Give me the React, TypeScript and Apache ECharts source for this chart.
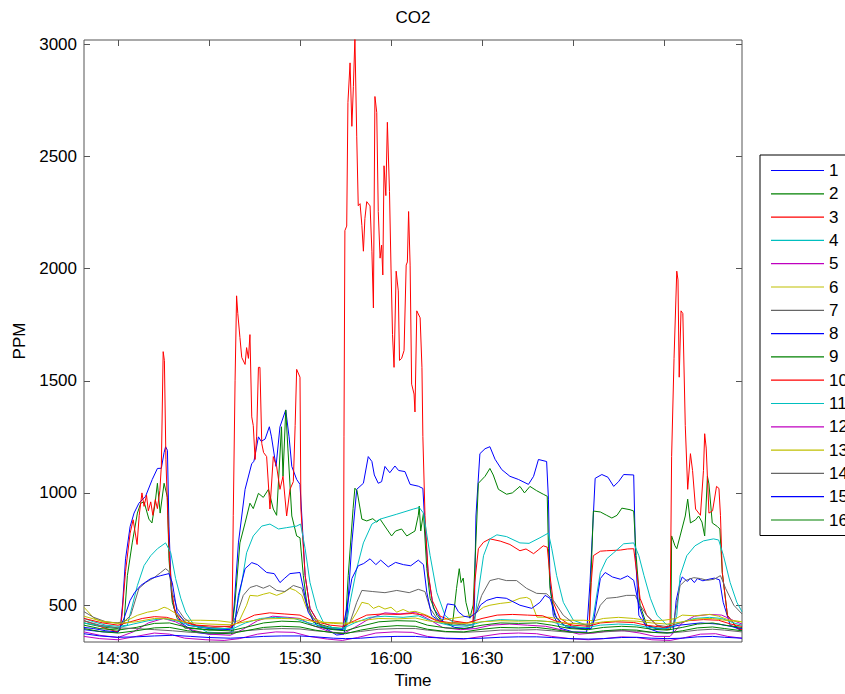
import React, { useEffect, useRef } from "react";
import * as echarts from "echarts";

// Time is in minutes since midnight; values are CO2 in PPM.
const chartTitle = "CO2";
const xName = "Time";
const yName = "PPM";
const xRange = [858.8, 1075.7];
const yRange = [335, 3020];
const xTickLabels = ["14:30", "15:00", "15:30", "16:00", "16:30", "17:00", "17:30"];
const yTickValues = [500, 1000, 1500, 2000, 2500, 3000];
const seriesNames = ["1", "2", "3", "4", "5", "6", "7", "8", "9", "10", "11", "12", "13", "14", "15", "16"];
const seriesColors = [
  "#0000FF", "#008000", "#FF0000", "#00BFBF", "#BF00BF", "#BFBF00", "#666666",
  "#0000FF", "#008000", "#FF0000", "#00BFBF", "#BF00BF", "#BFBF00", "#666666",
  "#0000FF", "#008000",
];

const s1 = [
  [858.8, 400], [862, 395], [866, 385], [870, 380], [870.7, 390], [871.5, 500], [872.5, 706], [874, 850], [875.3, 910], [876.9, 954], [879.1, 985], [881.3, 1060], [883, 1109], [884.3, 1110], [885.2, 1180], [885.7, 1206], [886.3, 1190], [886.8, 852], [887.6, 556], [888.5, 485], [890.7, 423], [895, 379], [900, 370], [905, 372], [907.5, 380],
  [908.3, 500], [909.7, 777], [911.9, 1016], [914.1, 1131], [914.8, 1140], [916.3, 1250], [917.2, 1230], [918.5, 1240], [919.9, 1295], [920.6, 1250], [922.1, 1118], [923.4, 1295], [925.3, 1370], [926.4, 1250], [927.3, 1118], [928.9, 1060], [930, 1038], [930.6, 897], [931.7, 631], [933.3, 485], [936.6, 410], [942.1, 366], [944.5, 370],
  [945.5, 450], [947.1, 777], [948.7, 1016], [950.9, 1043], [952.5, 1162], [953.7, 1140], [954.5, 1080], [955.8, 1043], [956.9, 1050], [958, 1118], [959.6, 1090], [961.3, 1120], [962.5, 1100], [964.6, 1095], [966.3, 1038], [969, 1030], [970.5, 1020], [971.2, 852], [972.3, 631], [974, 485], [977.3, 423], [981, 400], [985, 395], [987, 400],
  [987.5, 500], [988, 897], [989.3, 1175], [991, 1197], [992.6, 1206], [994.3, 1150], [996.5, 1104], [999.2, 1074], [1002, 1060], [1005.3, 1038], [1007, 1074], [1008.6, 1149], [1011.3, 1140], [1011.9, 972], [1012.4, 600], [1013.5, 454], [1015.7, 397], [1020, 380], [1024.5, 379],
  [1025.6, 600], [1027.3, 1065], [1029.5, 1082], [1031.5, 1070], [1033.4, 1029], [1035, 1050], [1036.7, 1082], [1040, 1080], [1040.6, 720], [1041.7, 454], [1044.5, 397], [1048, 380], [1053, 375],
  [1053.1, 390], [1054, 520], [1055.3, 600], [1056, 625], [1057.7, 605], [1058.7, 620], [1060, 600], [1061, 618], [1062.8, 608], [1064.8, 615], [1066.6, 620], [1068.3, 612], [1069.5, 512], [1071.8, 410], [1075.7, 385],
];

const s2 = [
  [858.8, 420], [862, 410], [866, 400], [870, 395], [872, 420], [873.1, 631], [874.7, 777], [876.4, 910], [877.5, 954], [878.6, 960], [880.2, 883], [881.2, 866], [882.2, 950], [883, 1043], [883.9, 910], [885.2, 1043], [886.3, 980], [886.8, 706], [887.9, 512], [889.5, 441], [892, 397], [900, 390], [907.5, 395],
  [908.5, 500], [910.2, 777], [911.9, 866], [913.5, 954], [914.6, 930], [916.3, 998], [917.9, 980], [919.6, 1016], [921.2, 928], [922.3, 900], [923.9, 1295], [924.4, 1074], [925.3, 1370], [926, 1200], [927.3, 897], [928.9, 808], [930, 800], [931.1, 631], [932.2, 512], [934.4, 423], [940, 400], [944.5, 395],
  [945, 420], [945.9, 631], [947.5, 930], [948.1, 1021], [948.8, 1010], [950.4, 883], [952, 875], [954, 885], [955.3, 870], [956.4, 883], [958.6, 839], [960.2, 808], [961.5, 830], [963.5, 839], [965.2, 808], [967.9, 830], [969, 900], [969.3, 941], [969.8, 830], [970.7, 910], [971.8, 662], [972.9, 530], [975.1, 454], [977, 423], [980, 410],
  [980.5, 441], [981.6, 574], [982.5, 662], [983.1, 600], [983.8, 620], [984.7, 512], [986, 441], [987.1, 500], [988.8, 1043], [991, 1074], [992.6, 1109], [993.7, 1080], [995.4, 1016], [998.1, 994], [1000, 1000], [1002.5, 1029], [1004, 1000], [1005.8, 1029], [1008, 1010], [1010.2, 994], [1011.5, 985], [1011.9, 751], [1012.4, 574], [1014, 454], [1016.8, 410], [1022, 400], [1025.3, 395],
  [1025.6, 500], [1026.7, 919], [1029, 915], [1031.1, 900], [1032.8, 888], [1034.5, 900], [1036.1, 932], [1038.8, 925], [1040, 919], [1040.8, 720], [1042.1, 499], [1044.3, 410], [1048, 395], [1052, 390],
  [1052.3, 420], [1052.5, 808], [1053.6, 764], [1054.2, 751], [1055.3, 808], [1057, 897], [1057.8, 972], [1058.7, 866], [1060.4, 880], [1061.4, 897], [1062.5, 870], [1063.4, 808], [1064.3, 1074], [1064.8, 1040], [1065.9, 866], [1067.6, 850], [1068.4, 839], [1069.2, 645], [1070.9, 454], [1074.1, 397], [1075.7, 390],
];

const s3 = [
  [858.8, 430], [862, 415], [866, 395], [870, 380], [870.7, 390], [871.3, 450], [872.5, 650], [874, 820], [875, 880], [876.3, 770], [877, 900], [877.9, 1000], [878.6, 940], [879.4, 990], [880, 920], [880.8, 960], [881.5, 900], [882.3, 970], [883, 930], [883.8, 1010], [884.3, 1120], [884.9, 1630], [885.3, 1590], [885.8, 1150], [886.4, 900], [887, 700], [887.8, 550], [889, 460], [891, 430], [895, 410], [900, 400], [905, 395], [907.6, 400],
  [908, 900], [908.6, 1500], [909.1, 1879], [909.5, 1800], [910.2, 1693], [910.8, 1604], [911.9, 1573], [912.4, 1648], [913, 1600], [913.5, 1706], [914.1, 1339], [914.6, 1300], [915.2, 1149], [915.7, 1250], [916.3, 1560], [916.8, 1560], [917.4, 1220], [918, 1180], [919, 1162], [920.1, 928], [921.2, 1162], [922.3, 1118], [923.4, 1016], [924.4, 1074], [925.6, 897], [926.7, 1016], [927.8, 1050], [928.4, 1300], [928.9, 1551], [930, 1516], [930.3, 928], [931.7, 631], [933.3, 485], [936.6, 410], [940, 395], [943.5, 390],
  [944.3, 400], [944.5, 1250], [944.8, 2170], [945.4, 2190], [945.8, 2741], [946.5, 2918], [947.1, 2635], [947.6, 2812], [948.1, 3030], [948.7, 2591], [949.2, 2281], [949.8, 2290], [950.4, 2193], [950.9, 2078], [951.4, 2224], [952, 2299], [953.1, 2280], [953.7, 2078], [954.2, 1825], [954.7, 2768], [955.3, 2697], [955.8, 2255], [956.4, 2047], [956.9, 2105], [957.3, 1972], [957.7, 2459], [958.3, 2326], [958.8, 2653], [959.5, 2344], [960, 2003], [960.5, 1706], [961, 1560], [961.7, 1989], [962.4, 1901], [962.8, 1591], [963.5, 1600], [964.3, 1635], [965, 2016], [965.4, 2030], [965.8, 2255], [966.3, 2016], [966.8, 1485], [967.6, 1441], [967.9, 1361], [968.5, 1812], [969.6, 1781], [970.2, 1560], [970.5, 1251], [971.2, 900], [972.2, 650], [973.6, 520], [976.2, 450], [980, 430], [985, 420], [987, 425],
  [987.6, 600], [988.8, 751], [990.5, 780], [992.6, 795], [996, 785], [999.2, 770], [1002.5, 742], [1004.5, 750], [1007, 729], [1008.5, 745], [1010.2, 764], [1011.5, 758], [1012.4, 631], [1013.5, 512], [1015.7, 441], [1020.1, 400], [1024, 390],
  [1025.3, 395], [1026, 600], [1026.7, 720], [1029, 740], [1031, 742], [1035.6, 745], [1038, 750], [1040, 751], [1041, 645], [1042.1, 530], [1044.3, 454], [1047.6, 410], [1051.5, 390],
  [1052, 420], [1052.5, 1162], [1053.3, 1600], [1054.2, 1989], [1054.6, 1950], [1055, 1516], [1055.6, 1812], [1056.2, 1800], [1057, 1300], [1057.8, 1016], [1058.7, 1175], [1059.4, 1100], [1060.4, 928], [1062, 900], [1063, 1100], [1063.4, 1264], [1063.9, 1200], [1064.8, 910], [1066, 920], [1067.3, 1029], [1068.1, 1020], [1068.6, 900], [1069.2, 645], [1070.9, 454], [1074.1, 397], [1075.7, 390],
];

const s4 = [
  [858.8, 440], [862, 425], [866, 410], [870, 405], [873.1, 410], [876.4, 587], [878.6, 676], [880.8, 720], [883, 751], [885.7, 777], [887.4, 733], [889, 618], [890.7, 530], [892.3, 468], [895.1, 410], [899.5, 379], [905, 375], [908, 380],
  [909.1, 485], [910.8, 600], [912.4, 733], [914.6, 808], [917.4, 852], [920.1, 861], [922.9, 839], [925.6, 845], [928.9, 852], [930.2, 861], [931.7, 751], [933.3, 600], [935.5, 485], [937.7, 423], [941, 397], [945, 390],
  [946.5, 512], [948.7, 662], [950.9, 777], [953.7, 861], [956.4, 883], [961.9, 905], [967.4, 928], [969.3, 935], [970.7, 910], [972.9, 720], [975.1, 556], [977.8, 454], [980.5, 423], [985, 410], [987.5, 415],
  [988.3, 512], [990.5, 720], [992.6, 795], [994.9, 813], [998.1, 805], [1002.5, 777], [1005.5, 775], [1009.1, 800], [1011.9, 821], [1013, 751], [1014.6, 631], [1016.8, 512], [1020.1, 432], [1024.5, 410], [1026, 408],
  [1026.7, 450], [1029, 645], [1031.1, 706], [1033.4, 733], [1036.7, 773], [1040, 777], [1041.7, 720], [1043.4, 631], [1045.5, 530], [1047.7, 454], [1051, 410], [1053.5, 420],
  [1054.2, 454], [1055.3, 631], [1057.5, 720], [1060.2, 764], [1063, 786], [1066.3, 795], [1068, 790], [1069.6, 720], [1071.8, 600], [1074, 512], [1075.7, 470],
];

const s5 = [
  [858.8, 380], [864, 365], [870, 355], [875, 380], [880, 420], [885, 440], [889, 425], [894, 390], [900, 370], [907, 365], [911, 390], [916, 430], [921, 450], [926, 445], [930, 440], [934, 410], [940, 380], [944, 370], [948, 400], [953, 440], [958, 465], [963, 460], [968, 468], [972, 440], [977, 400], [983, 390], [988, 395], [993, 410], [999, 415], [1005, 410], [1011, 405], [1016, 390], [1022, 370], [1027, 375], [1032, 385], [1037, 385], [1042, 375], [1047, 360], [1052, 360], [1056, 420], [1060, 450], [1065, 458], [1069, 455], [1073, 430], [1075.7, 415],
];

const s6 = [
  [858.8, 490], [862.1, 441], [865.4, 423], [869.8, 420], [873.1, 432], [876.4, 454], [879.7, 468], [883, 476], [885.2, 490], [886.3, 485], [889, 463], [891.8, 432], [897.3, 432], [902.8, 430], [907.2, 423],
  [910, 430], [912.4, 499], [913.5, 543], [916, 540], [917.9, 548], [920, 555], [922.3, 543], [924.5, 555], [926.7, 574], [928.5, 565], [930.6, 543], [932.2, 485], [934.4, 441], [937.7, 423], [944, 420],
  [946.5, 420], [948.7, 468], [950.4, 512], [952.6, 505], [954.2, 485], [956, 495], [958, 482], [960, 490], [961.9, 468], [964, 480], [966, 468], [967.9, 472], [969.6, 465], [971.8, 454], [975.1, 432], [980, 440], [985, 450],
  [987, 455], [988.5, 470], [990.5, 490], [992.6, 499], [996, 507], [999.2, 512], [1002.5, 530], [1004.7, 534], [1006, 525], [1007, 485], [1008.1, 446], [1012.4, 445], [1017.9, 432], [1023.4, 432],
  [1027, 430], [1030, 440], [1035, 445], [1040, 440], [1045, 430], [1050, 432],
  [1054, 440], [1056, 455], [1060, 452], [1065, 458], [1068, 450], [1071, 435], [1075.7, 425],
];

const s7 = [
  [858.8, 470], [862, 445], [866, 425], [870, 420], [872, 425], [874.2, 454], [876.9, 574], [879.1, 600], [881.9, 622], [884.1, 645], [885.7, 662], [886.8, 650], [887.9, 556], [889.5, 485], [891.8, 441], [895, 410], [900, 400], [907, 405],
  [909, 450], [911.3, 543], [913.5, 578], [915.7, 587], [917.9, 575], [920, 587], [922.3, 565], [925, 560], [927.8, 587], [930.6, 575], [932.2, 499], [934.4, 441], [937.7, 397], [944, 390],
  [946.5, 423], [948.7, 512], [950.4, 565], [954, 560], [958, 555], [961.9, 565], [966, 555], [969, 570], [971.2, 560], [972.9, 485], [975.1, 441], [977.5, 419], [985, 410], [987, 412],
  [987.7, 454], [989.9, 543], [992.6, 609], [995.4, 618], [998, 609], [1001.4, 609], [1004.7, 574], [1008, 552], [1011.3, 550], [1013.5, 521], [1016.8, 454], [1020.1, 419], [1025, 410],
  [1026.7, 423], [1029, 499], [1031.1, 530], [1034.4, 534], [1037.7, 543], [1040.5, 543], [1042.1, 499], [1044.3, 454], [1047.6, 410], [1053, 400],
  [1053.6, 454], [1055.3, 587], [1057, 609], [1059.8, 622], [1062, 618], [1064.3, 610], [1066.5, 615], [1068.6, 631], [1070.3, 574], [1073, 499], [1075.7, 460],
];

const s8 = [
  [858.8, 390], [865, 380], [870, 378], [872, 441], [874, 520], [875.5, 556], [877.5, 587], [880.8, 618], [884.1, 631], [886.8, 640], [887.9, 600], [889.5, 468], [892.9, 410], [900, 395], [907, 390],
  [908.6, 420], [909.7, 543], [911.9, 662], [914.1, 689], [916, 680], [919, 645], [921.5, 640], [923.4, 600], [925, 620], [926.7, 640], [930, 645], [931.1, 574], [932.7, 468], [935.5, 410], [940, 392], [944, 390],
  [945.4, 485], [947.1, 618], [949.2, 675], [951, 685], [953.1, 706], [955, 680], [956.6, 700], [959.1, 670], [961.5, 690], [964.1, 680], [966.5, 675], [969, 700], [970.7, 680], [971.8, 556], [973.4, 454], [976.2, 425], [977, 430], [978.6, 505], [981, 500], [982.2, 470], [984, 450], [986, 445],
  [988.3, 468], [989.5, 500], [991.6, 521], [994.9, 534], [998, 530], [1002.5, 499], [1006.4, 485], [1009.1, 512], [1010.8, 543], [1012.4, 530], [1014.6, 441], [1017.9, 401], [1022, 395], [1026, 395],
  [1026.7, 420], [1029, 618], [1030.6, 645], [1033, 625], [1035.6, 615], [1038, 630], [1040, 610], [1041.7, 499], [1043.9, 410], [1048, 392], [1055, 410], [1062, 420], [1068, 415], [1075.7, 395],
];

const s9 = [
  [858.8, 410], [864, 395], [870, 388], [876, 400], [882, 418], [887, 420], [893, 400], [900, 388], [907, 385], [912, 400], [918, 420], [924, 428], [930, 425], [935, 405], [941, 390], [945, 385], [950, 405], [956, 425], [962, 430], [968, 428], [972, 410], [978, 398], [984, 395], [990, 410], [996, 420], [1002, 418], [1008, 420], [1013, 410], [1019, 395], [1025, 390], [1030, 400], [1036, 405], [1041, 402], [1046, 392], [1051, 388], [1056, 400], [1061, 415], [1066, 420], [1070, 410], [1075.7, 400],
];

const s10 = [
  [858.8, 440], [865, 420], [870, 410], [874, 425], [878, 440], [882, 448], [886, 445], [890, 430], [896, 410], [902, 405], [907, 405], [911, 430], [915, 455], [920, 465], [925, 460], [930, 455], [934, 430], [940, 410], [944, 405], [948, 430], [952, 455], [957, 460], [962, 458], [967, 462], [971, 455], [975, 430], [980, 420], [985, 420], [990, 440], [995, 455], [1000, 458], [1005, 455], [1010, 452], [1014, 430], [1020, 410], [1025, 405], [1029, 420], [1034, 425], [1040, 422], [1044, 410], [1050, 400], [1054, 415], [1058, 430], [1063, 435], [1068, 432], [1072, 415], [1075.7, 405],
];

const s11 = [
  [858.8, 420], [865, 405], [870, 398], [875, 415], [880, 430], [885, 440], [889, 430], [895, 405], [902, 395], [908, 395], [912, 420], [917, 440], [922, 445], [928, 440], [933, 420], [939, 400], [944, 395], [948, 420], [953, 445], [958, 450], [964, 445], [969, 452], [973, 430], [979, 410], [985, 405], [990, 425], [996, 435], [1002, 432], [1008, 430], [1013, 425], [1018, 405], [1024, 398], [1029, 410], [1035, 415], [1040, 412], [1045, 400], [1051, 395], [1055, 420], [1060, 440], [1065, 445], [1069, 440], [1073, 420], [1075.7, 410],
];

const s12 = [
  [858.8, 360], [864, 350], [870, 345], [876, 360], [882, 375], [887, 370], [892, 352], [899, 345], [905, 342], [910, 350], [916, 370], [922, 380], [928, 378], [933, 360], [939, 348], [944, 342], [949, 355], [955, 375], [961, 380], [967, 378], [972, 360], [978, 350], [984, 348], [990, 360], [996, 372], [1002, 375], [1008, 372], [1013, 360], [1019, 350], [1025, 345], [1030, 350], [1036, 358], [1041, 355], [1046, 345], [1052, 342], [1057, 355], [1062, 370], [1067, 372], [1071, 360], [1075.7, 352],
];

const s13 = [
  [858.8, 450], [864, 430], [870, 418], [876, 425], [882, 440], [887, 438], [893, 422], [900, 415], [907, 412], [912, 425], [918, 438], [924, 440], [930, 438], [935, 425], [941, 418], [945, 415], [950, 430], [956, 440], [962, 438], [968, 442], [972, 430], [978, 420], [984, 418], [990, 425], [996, 430], [1002, 428], [1008, 430], [1013, 425], [1019, 418], [1025, 415], [1030, 425], [1036, 430], [1041, 428], [1046, 420], [1051, 415], [1056, 425], [1061, 438], [1066, 440], [1070, 432], [1075.7, 425],
];

const s14 = [
  [858.8, 430], [864, 410], [870, 398], [876, 395], [882, 390], [888, 385], [894, 378], [900, 375], [907, 378], [912, 385], [918, 392], [924, 395], [930, 393], [935, 385], [941, 378], [945, 375], [950, 382], [956, 392], [962, 395], [968, 395], [972, 388], [978, 380], [984, 378], [990, 382], [996, 388], [1002, 388], [1008, 390], [1013, 385], [1019, 378], [1025, 375], [1030, 380], [1036, 385], [1041, 383], [1046, 378], [1051, 375], [1056, 380], [1061, 388], [1066, 392], [1070, 388], [1075.7, 380],
];

const s15 = [
  [858.8, 372], [864, 362], [870, 356], [876, 358], [882, 362], [888, 365], [894, 360], [900, 355], [907, 352], [912, 355], [918, 360], [924, 362], [930, 362], [935, 358], [941, 352], [945, 350], [950, 352], [956, 358], [962, 360], [968, 360], [972, 356], [978, 352], [984, 350], [990, 352], [996, 356], [1002, 358], [1008, 358], [1013, 355], [1019, 350], [1025, 348], [1030, 350], [1036, 355], [1041, 356], [1046, 352], [1051, 350], [1056, 352], [1061, 358], [1066, 360], [1070, 356], [1075.7, 352],
];

const s16 = [
  [858.8, 395], [864, 382], [870, 375], [876, 385], [882, 398], [887, 400], [893, 385], [900, 375], [907, 372], [912, 385], [918, 400], [924, 405], [930, 402], [935, 388], [941, 376], [945, 372], [950, 388], [956, 402], [962, 408], [968, 405], [972, 392], [978, 382], [984, 380], [990, 392], [996, 400], [1002, 398], [1008, 400], [1013, 392], [1019, 380], [1025, 376], [1030, 385], [1036, 390], [1041, 388], [1046, 378], [1051, 375], [1056, 385], [1061, 398], [1066, 402], [1070, 395], [1075.7, 385],
];

const allSeries = [s1, s2, s3, s4, s5, s6, s7, s8, s9, s10, s11, s12, s13, s14, s15, s16];

const FONT = "'Liberation Sans', Arial, Helvetica, sans-serif";
const FRAME = "#555555";

function parseHM(s: string): number {
  const [h, m] = s.split(":").map(Number);
  return h * 60 + m;
}
function fmtHM(v: number): string {
  const h = Math.floor(v / 60);
  const m = Math.round(v - h * 60);
  return `${h}:${m < 10 ? "0" + m : m}`;
}

export default function App() {
  const ref = useRef<HTMLDivElement>(null);
  useEffect(() => {
    if (!ref.current) return;
    const chart = echarts.init(ref.current, null, { renderer: "svg" });
    const xTickValues = xTickLabels.map(parseHM);
    const tickStyle = { show: true, inside: true, length: 6, lineStyle: { color: FRAME, width: 1 } };
    chart.setOption({
      animation: false,
      backgroundColor: "#ffffff",
      color: seriesColors,
      title: {
        text: chartTitle,
        left: 413,
        top: 9,
        textAlign: "center",
        padding: 0,
        textStyle: { fontFamily: FONT, fontSize: 17, fontWeight: "normal", color: "#000" },
      },
      legend: {
        orient: "vertical",
        left: 760,
        top: 155,
        padding: [7, 40, 7, 11],
        itemWidth: 53,
        itemHeight: 14,
        itemGap: 6.3,
        icon: "path://M0,0L53,0L53,1.2L0,1.2Z",
        backgroundColor: "#ffffff",
        borderColor: "#000000",
        borderWidth: 1,
        selectedMode: false,
        data: seriesNames,
        textStyle: { fontFamily: FONT, fontSize: 17, color: "#000" },
      },
      grid: {
        left: 84,
        right: 103,
        top: 40,
        bottom: 47,
        show: true,
        borderColor: FRAME,
        borderWidth: 1,
        backgroundColor: "#ffffff",
      },
      xAxis: [
        {
          type: "value",
          min: xRange[0],
          max: xRange[1],
          name: xName,
          nameLocation: "middle",
          nameGap: 30,
          nameTextStyle: { fontFamily: FONT, fontSize: 17, color: "#000" },
          axisLine: { show: false },
          splitLine: { show: false },
          axisTick: { ...tickStyle, customValues: xTickValues },
          axisLabel: {
            customValues: xTickValues,
            formatter: (v: number) => fmtHM(v),
            fontFamily: FONT,
            fontSize: 17,
            color: "#000",
            margin: 8,
          },
        },
        {
          type: "value",
          position: "top",
          min: xRange[0],
          max: xRange[1],
          axisLine: { show: false },
          splitLine: { show: false },
          axisTick: { ...tickStyle, customValues: xTickValues },
          axisLabel: { show: false },
        },
      ],
      yAxis: [
        {
          type: "value",
          min: yRange[0],
          max: yRange[1],
          name: yName,
          nameLocation: "middle",
          nameGap: 53,
          nameRotate: 90,
          nameTextStyle: { fontFamily: FONT, fontSize: 17, color: "#000" },
          axisLine: { show: false },
          splitLine: { show: false },
          axisTick: { ...tickStyle, customValues: yTickValues },
          axisLabel: {
            customValues: yTickValues,
            formatter: (v: number) => String(v),
            fontFamily: FONT,
            fontSize: 17,
            color: "#000",
            margin: 7,
          },
        },
        {
          type: "value",
          position: "right",
          min: yRange[0],
          max: yRange[1],
          axisLine: { show: false },
          splitLine: { show: false },
          axisTick: { ...tickStyle, customValues: yTickValues },
          axisLabel: { show: false },
        },
      ],
      series: allSeries.map((d, i) => ({
        name: seriesNames[i],
        type: "line",
        data: d,
        xAxisIndex: 0,
        yAxisIndex: 0,
        symbol: "none",
        showSymbol: false,
        smooth: false,
        clip: true,
        lineStyle: { width: 1, color: seriesColors[i] },
        itemStyle: { color: seriesColors[i] },
        emphasis: { disabled: true },
      })),
    });
    return () => chart.dispose();
  }, []);
  return (
    <div
      ref={ref}
      style={{ position: "absolute", left: 0, top: 0, width: 845, height: 694 }}
    />
  );
}
